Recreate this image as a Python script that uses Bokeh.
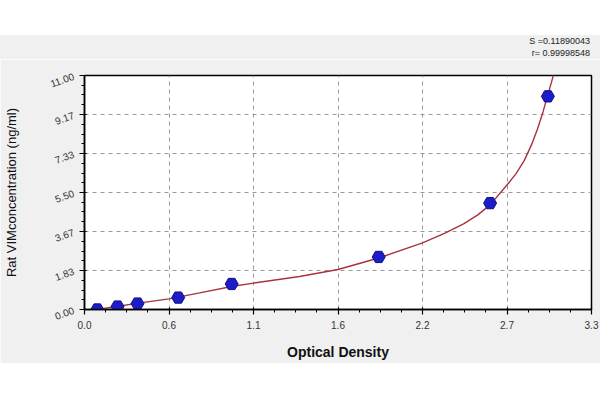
import math
from bokeh.plotting import figure
from bokeh.models import Range1d, FixedTicker, Div
from bokeh.layouts import column
from bokeh.embed import file_html
from bokeh.resources import INLINE

# standard points (optical density vs concentration)
od = [0.083, 0.215, 0.345, 0.61, 0.958, 1.915, 2.64, 3.016]
conc = [0.0, 0.14, 0.28, 0.56, 1.2, 2.47, 5.0, 10.02]

# fitted curve
fit_od = [0.083, 0.2, 0.35, 0.55, 0.75, 0.958, 1.1, 1.4, 1.65, 1.915,
          2.2, 2.35, 2.47, 2.56, 2.64, 2.75, 2.81, 2.862, 2.91, 2.949, 2.985, 3.016, 3.04, 3.07]
fit_conc = [0.0, 0.13, 0.3, 0.5, 0.78, 1.08, 1.24, 1.55, 1.88, 2.42,
            3.13, 3.6, 4.04, 4.45, 4.92, 5.85, 6.4, 7.0, 7.75, 8.5, 9.3, 10.1, 10.7, 11.5]

x_tick_values = [0, 0.55, 1.1, 1.65, 2.2, 2.75, 3.3]
x_tick_labels = ["0.0", "0.6", "1.1", "1.6", "2.2", "2.7", "3.3"]
y_tick_values = [0, 1.8333, 3.6667, 5.5, 7.3333, 9.1667, 11.0]
y_tick_labels = ["0.00", "1.83", "3.67", "5.50", "7.33", "9.17", "11.00"]

stat_lines = ["S =0.11890043", "r= 0.99998548"]


def minors(major, n):
    out = []
    for a, b in zip(major[:-1], major[1:]):
        step = (b - a) / n
        out += [a + step * k for k in range(1, n)]
    return out


FONT = "Liberation Sans"
GRAY = "#f0f0f0"

p = figure(width=600, height=304, output_backend="svg", toolbar_location=None,
           title=None, x_range=Range1d(0, 3.3), y_range=Range1d(0, 11),
           min_border_left=84, min_border_right=9, min_border_top=16, min_border_bottom=54,
           border_fill_color=GRAY, background_fill_color="white",
           outline_line_color="black", outline_line_width=1.5, margin=0)

# axes
p.xaxis.ticker = FixedTicker(ticks=x_tick_values, minor_ticks=minors(x_tick_values, 4))
p.xaxis.major_label_overrides = {v: l for v, l in zip(x_tick_values, x_tick_labels)}
p.yaxis.ticker = FixedTicker(ticks=y_tick_values, minor_ticks=minors(y_tick_values, 4))
p.yaxis.major_label_overrides = {v: l for v, l in zip(y_tick_values, y_tick_labels)}
p.yaxis.major_label_orientation = 0.35

for ax in (p.xaxis[0], p.yaxis[0]):
    ax.axis_line_color = "black"
    ax.axis_line_width = 1.5
    ax.major_tick_line_color = "black"
    ax.minor_tick_line_color = "black"
    ax.major_tick_line_width = 1.2
    ax.minor_tick_line_width = 1
    ax.major_tick_out = 5
    ax.major_tick_in = 2
    ax.minor_tick_out = 3
    ax.minor_tick_in = 0
    ax.major_label_text_font = FONT
    ax.major_label_text_font_size = "10px"
    ax.major_label_text_color = "#333333"
    ax.axis_label_text_font = FONT
    ax.axis_label_text_color = "#111111"

p.xaxis.axis_label = "Optical Density"
p.xaxis.axis_label_text_font_size = "14px"
p.xaxis.axis_label_text_font_style = "bold"
p.xaxis.major_label_standoff = 6
p.xaxis.axis_label_standoff = 12

p.yaxis.axis_label = "Rat VIMconcentration (ng/ml)"
p.yaxis.axis_label_text_font_size = "13px"
p.yaxis.axis_label_text_font_style = "normal"
p.yaxis.major_label_standoff = 6
p.yaxis.axis_label_standoff = 26

p.xgrid.grid_line_color = "#999999"
p.xgrid.grid_line_dash = "4 4"
p.xgrid.grid_line_width = 1
p.ygrid.grid_line_color = "#999999"
p.ygrid.grid_line_dash = "4 4"
p.ygrid.grid_line_width = 1

p.line(fit_od, fit_conc, line_color="#a83240", line_width=1.4)
p.scatter(od, conc, marker="hex", size=13, fill_color="#1c1cc8",
          line_color="#101088", line_width=1)

spacer = Div(text="", width=600, height=35, margin=0)
stats = Div(text="<br>".join(stat_lines), width=600, height=24, margin=0,
            styles={"background-color": GRAY, "font-family": FONT, "font-size": "9px",
                    "color": "#222222", "text-align": "right", "line-height": "12px",
                    "padding-right": "10px", "box-sizing": "border-box"})
layout = column(spacer, stats, p, spacing=0)

open("out.html", "w").write(file_html(layout, INLINE))
